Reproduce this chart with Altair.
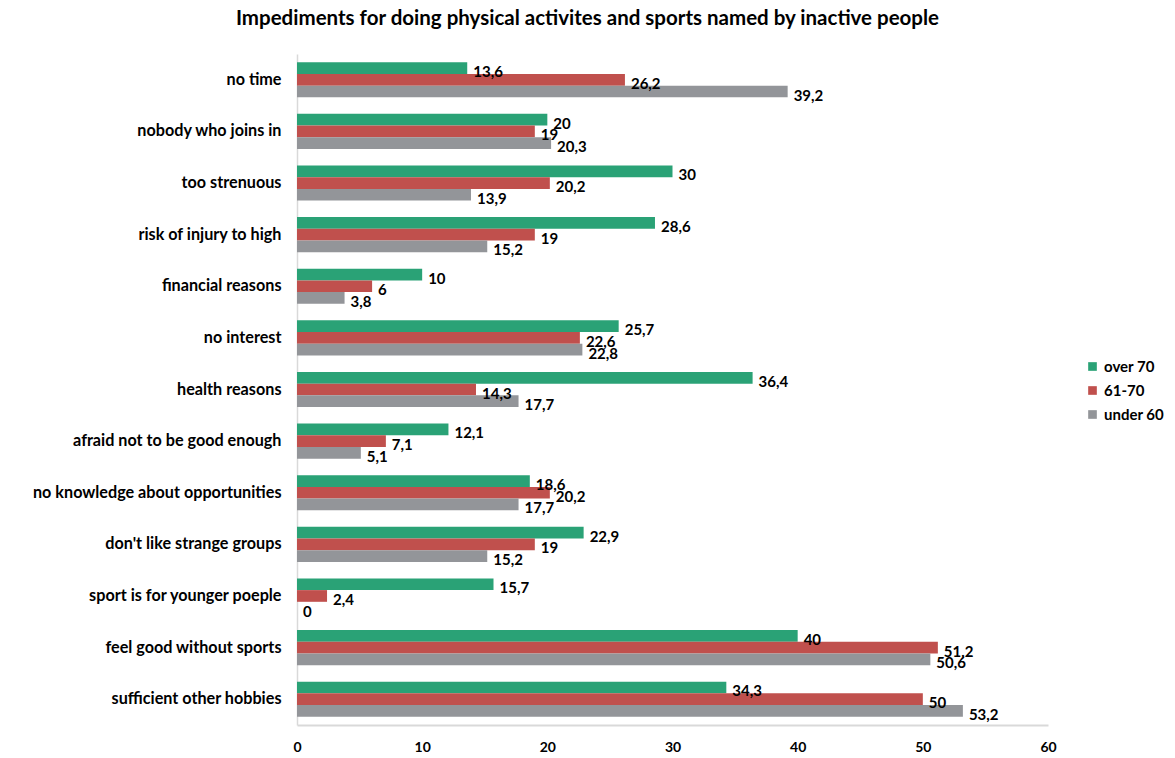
import altair as alt
import pandas as pd

categories = [
    "no time",
    "nobody who joins in",
    "too strenuous ",
    "risk of injury to high",
    "financial reasons",
    "no interest",
    "health reasons",
    "afraid not to be good enough",
    "no knowledge about opportunities",
    "don't like strange groups",
    "sport is for younger poeple",
    "feel good without sports",
    "sufficient other hobbies",
]
over_70 = [13.6, 20, 30, 28.6, 10, 25.7, 36.4, 12.1, 18.6, 22.9, 15.7, 40, 34.3]
age_61_70 = [26.2, 19, 20.2, 19, 6, 22.6, 14.3, 7.1, 20.2, 19, 2.4, 51.2, 50]
under_60 = [39.2, 20.3, 13.9, 15.2, 3.8, 22.8, 17.7, 5.1, 17.7, 15.2, 0, 50.6, 53.2]
series_names = ["over 70", "61-70", "under 60"]
series_colors = ["#2aa276", "#c0504d", "#939599"]

rows = []
for name, vals in zip(series_names, [over_70, age_61_70, under_60]):
    for cat, v in zip(categories, vals):
        rows.append({"category": cat, "series": name, "value": v,
                     "label": (f"{v:g}").replace(".", ",")})
df = pd.DataFrame(rows)

FONT = "Lato"

base = alt.Chart(df).encode(
    y=alt.Y("category:N", sort=categories, title=None,
            scale=alt.Scale(paddingInner=0.32, paddingOuter=0.16),
            axis=alt.Axis(labelFont=FONT, labelFontWeight="bold", labelFontSize=16.2,
                          labelColor="#000000", ticks=False, labelPadding=16,
                          domainColor="#d9d9d9", domainWidth=1.5, labelLimit=400)),
    yOffset=alt.YOffset("series:N", sort=series_names),
)

bars = base.mark_bar().encode(
    x=alt.X("value:Q", title=None,
            scale=alt.Scale(domain=[0, 60], nice=False),
            axis=alt.Axis(values=[0, 10, 20, 30, 40, 50, 60], grid=False, ticks=False,
                          labelFont=FONT, labelFontWeight="bold", labelFontSize=14,
                          labelColor="#000000", labelPadding=15, labelFlush=False,
                          domainColor="#d9d9d9", domainWidth=2)),
    color=alt.Color("series:N", sort=series_names,
                    scale=alt.Scale(domain=series_names, range=series_colors),
                    legend=alt.Legend(title=None, orient="none", legendX=788, legendY=305,
                                      symbolType="square", symbolSize=75,
                                      symbolStrokeWidth=0, rowPadding=8,
                                      labelFont=FONT, labelFontWeight="bold",
                                      labelFontSize=15, labelColor="#000000")),
)

labels = base.mark_text(align="left", baseline="middle", dx=6, dy=4,
                        font=FONT, fontWeight="bold", fontSize=15, color="#000000").encode(
    x="value:Q",
    text="label:N",
)

chart = (bars + labels).properties(
    width=751,
    height=671,
    autosize=alt.AutoSizeParams(type="none"),
    padding={"left": 297, "top": 54, "right": 127, "bottom": 33},
    title=alt.TitleParams(
        "Impediments for doing physical activites and sports named by inactive people",
        font=FONT, fontSize=20.5, fontWeight="bold", color="#000000",
        anchor="middle", dx=-85, offset=25),
).configure_view(stroke=None)

chart.save("out.html", embed_options={"renderer": "svg", "actions": False})
